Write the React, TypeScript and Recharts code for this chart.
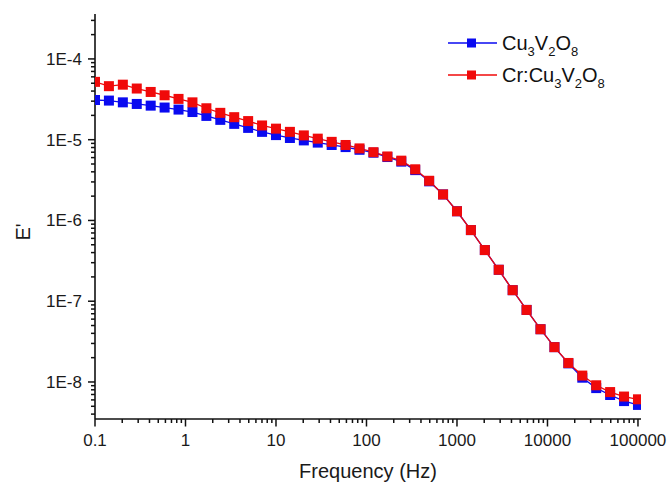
import React from 'react';
import { LineChart, Line, XAxis, YAxis, Legend } from 'recharts';

// Frequencies (Hz) of the measured points
const FREQ = [
  0.1, 0.1425, 0.2031, 0.2894, 0.4125, 0.5878, 0.8377, 1.1938, 1.7013, 2.4245,
  3.4551, 4.9239, 7.017, 10, 14.251, 20.309, 28.943, 41.246, 58.78, 83.768,
  119.38, 170.13, 242.45, 345.51, 492.39, 701.7, 1000, 1425.1, 2030.9, 2894.3,
  4124.6, 5878, 8376.8, 11938, 17013, 24245, 34551, 49239, 70170, 100000,
];

// Cu3V2O8
const CU = [
  3.1e-5, 3.05e-5, 2.9e-5, 2.77e-5, 2.64e-5, 2.5e-5, 2.36e-5, 2.2e-5, 1.97e-5, 1.76e-5,
  1.57e-5, 1.4e-5, 1.25e-5, 1.14e-5, 1.05e-5, 9.8e-6, 9.2e-6, 8.6e-6, 8.1e-6, 7.5e-6,
  6.9e-6, 6.1e-6, 5.35e-6, 4.2e-6, 3.05e-6, 2.1e-6, 1.3e-6, 7.6e-7, 4.3e-7, 2.45e-7,
  1.37e-7, 7.8e-8, 4.5e-8, 2.7e-8, 1.7e-8, 1.13e-8, 8.4e-9, 6.9e-9, 5.8e-9, 5.2e-9,
];

// Cr:Cu3V2O8
const CR = [
  5.2e-5, 4.6e-5, 4.8e-5, 4.3e-5, 3.9e-5, 3.55e-5, 3.2e-5, 2.9e-5, 2.45e-5, 2.15e-5,
  1.9e-5, 1.7e-5, 1.5e-5, 1.37e-5, 1.25e-5, 1.13e-5, 1.03e-5, 9.4e-6, 8.6e-6, 7.8e-6,
  7.0e-6, 6.2e-6, 5.5e-6, 4.3e-6, 3.1e-6, 2.1e-6, 1.3e-6, 7.6e-7, 4.3e-7, 2.45e-7,
  1.37e-7, 7.8e-8, 4.5e-8, 2.7e-8, 1.72e-8, 1.2e-8, 9.1e-9, 7.5e-9, 6.6e-9, 6.1e-9,
];

const SERIES_NAMES = ['Cu3V2O8', 'Cr:Cu3V2O8'];
const SERIES_KEYS = ['cu', 'cr'];
const SERIES_COLORS = ['#0a0af0', '#f00a0a'];

const X_MAJOR = [0.1, 1, 10, 100, 1000, 10000, 100000];
const X_LABELS = ['0.1', '1', '10', '100', '1000', '10000', '100000'];
const Y_MAJOR = [1e-4, 1e-5, 1e-6, 1e-7, 1e-8];
const Y_LABELS = ['1E-4', '1E-5', '1E-6', '1E-7', '1E-8'];
const MINOR_MULT = [2, 3, 4, 5, 6, 7, 8, 9];
const Y_DECADES = [1e-9, 1e-8, 1e-7, 1e-6, 1e-5, 1e-4];

const X_DOMAIN = [0.1, 108000];
const Y_DOMAIN = [3.48e-9, 3.6e-4];

const data = FREQ.map((f, i) => ({ f, cu: CU[i], cr: CR[i] }));

const inDomain = (v: number, d: number[]) => v > d[0] * 1.0001 && v < d[1] * 0.9999;
const xMinor = X_MAJOR.slice(0, -1).flatMap((m) => MINOR_MULT.map((k) => k * m)).filter((v) => inDomain(v, X_DOMAIN));
const yMinor = Y_DECADES.flatMap((m) => MINOR_MULT.map((k) => k * m)).filter((v) => inDomain(v, Y_DOMAIN));
const xTicks = [...X_MAJOR, ...xMinor].sort((a, b) => a - b);
const yTicks = [...Y_MAJOR, ...yMinor].sort((a, b) => a - b);

const majorIndex = (v: number, majors: number[]) =>
  majors.findIndex((m) => Math.abs(Math.log10(v) - Math.log10(m)) < 1e-6);

const FONT = '"Liberation Sans", Arial, sans-serif';
const AXIS_COLOR = '#111';
const MARK = 10;

const XTick = (props: any) => {
  const { x, y, payload } = props;
  const idx = majorIndex(payload.value, X_MAJOR);
  const len = idx >= 0 ? 7.5 : 4;
  return (
    <g>
      <line x1={x} x2={x} y1={y} y2={y + len} stroke={AXIS_COLOR} strokeWidth={1.5} />
      {idx >= 0 && (
        <text x={x} y={y + 27} textAnchor="middle" fontFamily={FONT} fontSize={17} fill="#1a1a1a">
          {X_LABELS[idx]}
        </text>
      )}
    </g>
  );
};

const YTick = (props: any) => {
  const { x, y, payload } = props;
  const idx = majorIndex(payload.value, Y_MAJOR);
  const len = idx >= 0 ? 7 : 4;
  return (
    <g>
      <line x1={x - len} x2={x} y1={y} y2={y} stroke={AXIS_COLOR} strokeWidth={1.5} />
      {idx >= 0 && (
        <text x={x - 13} y={y + 6} textAnchor="end" fontFamily={FONT} fontSize={17} fill="#1a1a1a">
          {Y_LABELS[idx]}
        </text>
      )}
    </g>
  );
};

const makeSquare = (color: string) => (props: any) => {
  const { cx, cy, index } = props;
  if (cx == null || cy == null) return <g key={index} />;
  return <rect key={index} x={cx - MARK / 2} y={cy - MARK / 2} width={MARK} height={MARK} fill={color} />;
};

const Formula = ({ text }: { text: string }) => (
  <span>
    {text.split(/(\d)/).map((part, i) =>
      /\d/.test(part) ? (
        <span key={i} style={{ fontSize: 13, position: 'relative', top: 6 }}>
          {part}
        </span>
      ) : (
        <span key={i}>{part}</span>
      )
    )}
  </span>
);

const renderLegend = () => (
  <div style={{ fontFamily: FONT, fontSize: 20, color: '#111' }}>
    {SERIES_NAMES.map((name, i) => (
      <div key={name} style={{ display: 'flex', alignItems: 'center', height: 32, whiteSpace: 'nowrap' }}>
        <svg width={54} height={14} style={{ display: 'block' }}>
          <line x1={0} x2={49} y1={7} y2={7} stroke={SERIES_COLORS[i]} strokeWidth={1.5} />
          <rect x={19} y={2.5} width={9} height={9} fill={SERIES_COLORS[i]} />
        </svg>
        <Formula text={name} />
      </div>
    ))}
  </div>
);

export default function App() {
  return (
    <div style={{ position: 'absolute', left: 0, top: 0, width: 668, height: 486, background: '#fff' }}>
      <LineChart width={668} height={486} data={data} margin={{ top: 14, right: 27, bottom: 0, left: 0 }}>
        <XAxis
          xAxisId="main"
          dataKey="f"
          type="number"
          scale="log"
          domain={X_DOMAIN}
          allowDataOverflow
          ticks={xTicks}
          interval={0}
          tick={<XTick />}
          tickSize={0}
          tickMargin={0}
          tickLine={false}
          height={67}
          axisLine={{ stroke: AXIS_COLOR, strokeWidth: 1.6 }}
          label={{
            content: (p: any) => {
              const vb = p.viewBox || {};
              return (
                <text x={vb.x + vb.width / 2} y={478} textAnchor="middle" fontFamily={FONT} fontSize={20} fill="#1a1a1a">
                  Frequency (Hz)
                </text>
              );
            },
          }}
        />
        <XAxis
          xAxisId="top"
          orientation="top"
          dataKey="f"
          type="number"
          scale="log"
          domain={X_DOMAIN}
          allowDataOverflow
          height={0}
          tick={false}
          tickLine={false}
          axisLine={{ stroke: AXIS_COLOR, strokeWidth: 1.6 }}
        />
        <YAxis
          yAxisId="main"
          type="number"
          scale="log"
          domain={Y_DOMAIN}
          allowDataOverflow
          ticks={yTicks}
          interval={0}
          tick={<YTick />}
          tickSize={0}
          tickMargin={0}
          tickLine={false}
          width={95}
          axisLine={{ stroke: AXIS_COLOR, strokeWidth: 1.6 }}
          label={{
            content: () => (
              <text x={30} y={232} transform="rotate(-90 30 232)" textAnchor="middle" fontFamily={FONT} fontSize={20} fill="#1a1a1a">
                E'
              </text>
            ),
          }}
        />
        <YAxis
          yAxisId="right"
          orientation="right"
          type="number"
          scale="log"
          domain={Y_DOMAIN}
          allowDataOverflow
          width={0}
          tick={false}
          tickLine={false}
          axisLine={{ stroke: AXIS_COLOR, strokeWidth: 1.6 }}
        />
        {SERIES_KEYS.map((k, i) => (
          <Line
            key={k}
            xAxisId="main"
            yAxisId="main"
            dataKey={k}
            name={SERIES_NAMES[i]}
            type="linear"
            stroke={SERIES_COLORS[i]}
            strokeWidth={1.3}
            dot={makeSquare(SERIES_COLORS[i])}
            activeDot={false}
            isAnimationActive={false}
          />
        ))}
        <Legend
          layout="vertical"
          verticalAlign="middle"
          align="center"
          content={renderLegend}
          wrapperStyle={{ position: 'absolute', left: 448, top: 27, width: 'auto', height: 'auto' }}
        />
      </LineChart>
    </div>
  );
}
